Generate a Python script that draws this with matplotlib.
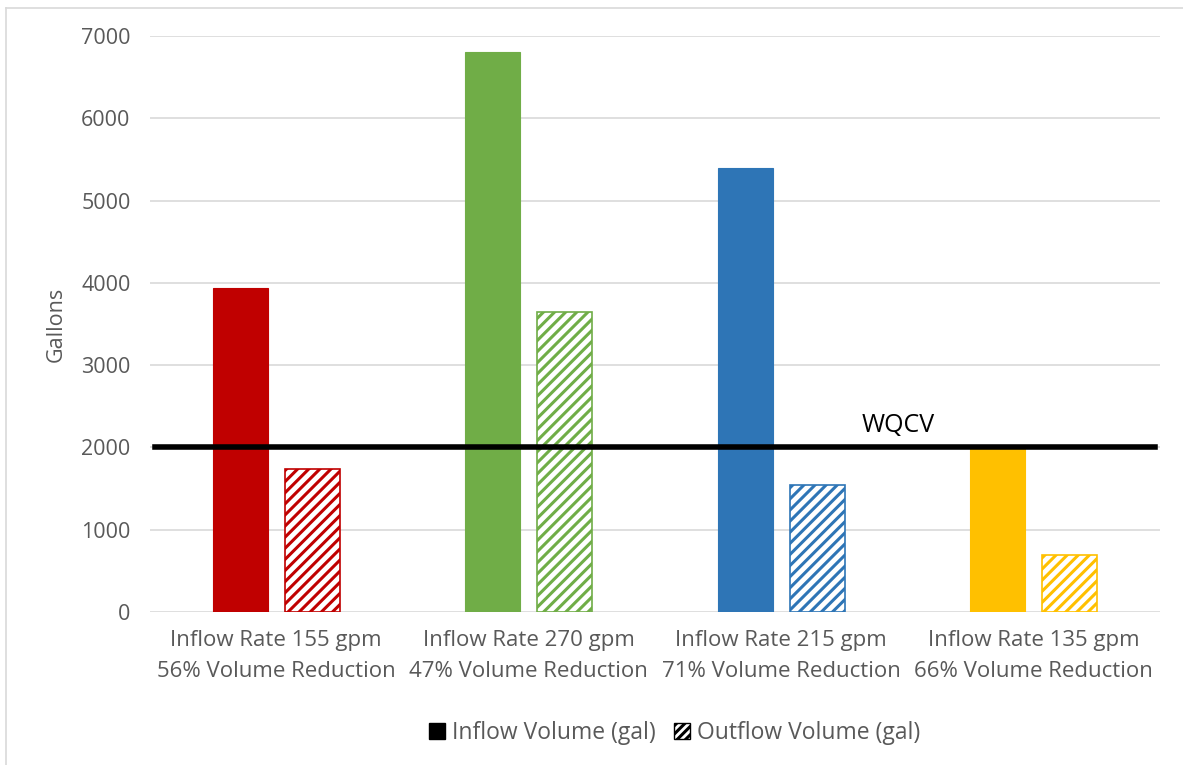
import matplotlib
matplotlib.use("Agg")
import matplotlib.pyplot as plt
from matplotlib.patches import Patch
from matplotlib.lines import Line2D
import numpy as np

categories = ["Inflow Rate 155 gpm\n56% Volume Reduction",
              "Inflow Rate 270 gpm\n47% Volume Reduction",
              "Inflow Rate 215 gpm\n71% Volume Reduction",
              "Inflow Rate 135 gpm\n66% Volume Reduction"]
inflow = [3940, 6800, 5390, 1990]
outflow = [1740, 3645, 1545, 690]
colors = ["#C00000", "#70AD47", "#2E75B6", "#FFC000"]
wqcv = 2000
yticks = [0, 1000, 2000, 3000, 4000, 5000, 6000, 7000]

plt.rcParams['font.family'] = ['Open Sans', 'DejaVu Sans']
plt.rcParams['hatch.linewidth'] = 2.2

fig = plt.figure(figsize=(11.83, 7.65), dpi=100)
ax = fig.add_axes([150/1183, 1-612/765, 1010/1183, 576/765])

x = np.arange(len(categories))
w = 0.218
off = 0.143
for i in range(len(categories)):
    ax.bar(x[i] - off, inflow[i], width=w, color=colors[i], edgecolor=colors[i], linewidth=0.8, zorder=2)
    ax.bar(x[i] + off, outflow[i], width=w, facecolor="white", edgecolor=colors[i],
           hatch="///", linewidth=1.2, zorder=2)

ax.set_xlim(-0.5, 3.5)
ax.set_ylim(0, 7000)
ax.set_yticks(yticks)
ax.set_yticklabels([str(v) for v in yticks])
ax.set_xticks(x)
ax.set_xticklabels(categories, fontsize=16, color="#595959", linespacing=1.6)
ax.tick_params(axis='y', labelsize=15.5, labelcolor="#595959", length=0, pad=14)
ax.tick_params(axis='x', length=0, pad=13)
ax.yaxis.grid(True, color="#D9D9D9", linewidth=1.2, zorder=0)
ax.set_axisbelow(True)
for s in ax.spines.values():
    s.set_visible(False)
ax.set_ylabel("Gallons", fontsize=15.5, color="#595959", labelpad=10)

ax.plot([-0.48, 3.48], [wqcv, wqcv], color="black", linewidth=4, zorder=3, clip_on=False)
ax.text(2.32, wqcv + 120, "WQCV", fontsize=18, color="black", ha="left", va="bottom")

handles = [Patch(facecolor="black", edgecolor="black"),
           Patch(facecolor="white", edgecolor="black", hatch="////")]
fig.legend(handles, ["Inflow Volume (gal)", "Outflow Volume (gal)"],
           loc="center", bbox_to_anchor=(675/1183, 1-733/765), ncol=2, frameon=False,
           fontsize=16.5, labelcolor="#595959", handlelength=0.7, handleheight=0.7,
           handletextpad=0.3, columnspacing=0.8)

fig.add_artist(Line2D([6/1183, 6/1183], [0, 1-8/765], color="#D9D9D9", linewidth=1.2))
fig.add_artist(Line2D([6/1183, 1], [1-8/765, 1-8/765], color="#D9D9D9", linewidth=1.2))

fig.savefig("out.png", dpi=100)
